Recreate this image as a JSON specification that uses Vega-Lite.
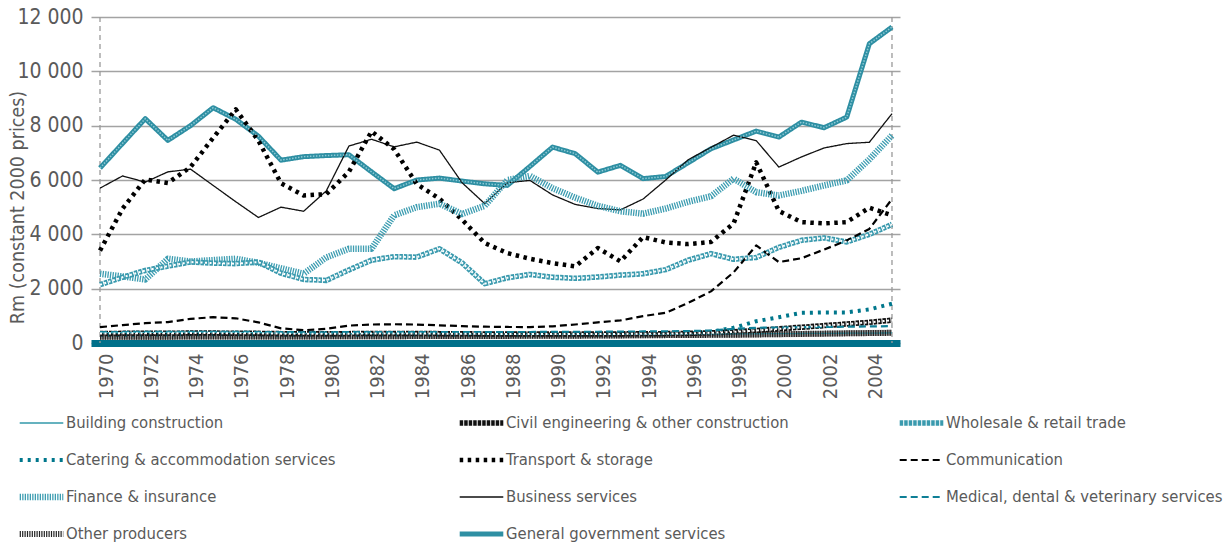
{
  "$schema": "https://vega.github.io/schema/vega-lite/v6.json",
  "width": 809,
  "height": 326,
  "autosize": "none",
  "padding": {"left": 91, "top": 17, "right": 329, "bottom": 200},
  "background": "white",
  "config": {
    "font": "DejaVu Sans Condensed, DejaVu Sans, sans-serif",
    "view": {"stroke": null}
  },
  "datasets": {
    "bounds": [{"year": 1970}, {"year": 2005}],
    "d": [
      {"series":"General government services","year":1970,"value":6440},{"series":"General government services","year":1971,"value":7350},{"series":"General government services","year":1972,"value":8257},{"series":"General government services","year":1973,"value":7458},{"series":"General government services","year":1974,"value":8000},{"series":"General government services","year":1975,"value":8661},{"series":"General government services","year":1976,"value":8236},{"series":"General government services","year":1977,"value":7613},{"series":"General government services","year":1978,"value":6730},{"series":"General government services","year":1979,"value":6860},{"series":"General government services","year":1980,"value":6900},{"series":"General government services","year":1981,"value":6930},{"series":"General government services","year":1982,"value":6300},{"series":"General government services","year":1983,"value":5680},{"series":"General government services","year":1984,"value":6000},{"series":"General government services","year":1985,"value":6070},{"series":"General government services","year":1986,"value":5960},{"series":"General government services","year":1987,"value":5860},{"series":"General government services","year":1988,"value":5800},{"series":"General government services","year":1989,"value":6500},{"series":"General government services","year":1990,"value":7210},{"series":"General government services","year":1991,"value":6970},{"series":"General government services","year":1992,"value":6290},{"series":"General government services","year":1993,"value":6540},{"series":"General government services","year":1994,"value":6050},{"series":"General government services","year":1995,"value":6130},{"series":"General government services","year":1996,"value":6640},{"series":"General government services","year":1997,"value":7150},{"series":"General government services","year":1998,"value":7475},{"series":"General government services","year":1999,"value":7800},{"series":"General government services","year":2000,"value":7580},{"series":"General government services","year":2001,"value":8130},{"series":"General government services","year":2002,"value":7925},{"series":"General government services","year":2003,"value":8315},{"series":"General government services","year":2004,"value":11017},{"series":"General government services","year":2005,"value":11630},
      {"series":"Business services","year":1970,"value":5700},{"series":"Business services","year":1971,"value":6150},{"series":"Business services","year":1972,"value":5920},{"series":"Business services","year":1973,"value":6300},{"series":"Business services","year":1974,"value":6400},{"series":"Business services","year":1975,"value":5800},{"series":"Business services","year":1976,"value":5200},{"series":"Business services","year":1977,"value":4620},{"series":"Business services","year":1978,"value":5000},{"series":"Business services","year":1979,"value":4850},{"series":"Business services","year":1980,"value":5600},{"series":"Business services","year":1981,"value":7250},{"series":"Business services","year":1982,"value":7500},{"series":"Business services","year":1983,"value":7220},{"series":"Business services","year":1984,"value":7395},{"series":"Business services","year":1985,"value":7100},{"series":"Business services","year":1986,"value":5900},{"series":"Business services","year":1987,"value":5130},{"series":"Business services","year":1988,"value":5900},{"series":"Business services","year":1989,"value":5985},{"series":"Business services","year":1990,"value":5450},{"series":"Business services","year":1991,"value":5100},{"series":"Business services","year":1992,"value":4950},{"series":"Business services","year":1993,"value":4900},{"series":"Business services","year":1994,"value":5300},{"series":"Business services","year":1995,"value":6000},{"series":"Business services","year":1996,"value":6750},{"series":"Business services","year":1997,"value":7200},{"series":"Business services","year":1998,"value":7650},{"series":"Business services","year":1999,"value":7450},{"series":"Business services","year":2000,"value":6475},{"series":"Business services","year":2001,"value":6850},{"series":"Business services","year":2002,"value":7180},{"series":"Business services","year":2003,"value":7340},{"series":"Business services","year":2004,"value":7390},{"series":"Business services","year":2005,"value":8440},
      {"series":"Transport & storage","year":1970,"value":3400},{"series":"Transport & storage","year":1971,"value":4950},{"series":"Transport & storage","year":1972,"value":6020},{"series":"Transport & storage","year":1973,"value":5890},{"series":"Transport & storage","year":1974,"value":6475},{"series":"Transport & storage","year":1975,"value":7550},{"series":"Transport & storage","year":1976,"value":8600},{"series":"Transport & storage","year":1977,"value":7450},{"series":"Transport & storage","year":1978,"value":5880},{"series":"Transport & storage","year":1979,"value":5430},{"series":"Transport & storage","year":1980,"value":5480},{"series":"Transport & storage","year":1981,"value":6300},{"series":"Transport & storage","year":1982,"value":7790},{"series":"Transport & storage","year":1983,"value":7130},{"series":"Transport & storage","year":1984,"value":5850},{"series":"Transport & storage","year":1985,"value":5310},{"series":"Transport & storage","year":1986,"value":4540},{"series":"Transport & storage","year":1987,"value":3680},{"series":"Transport & storage","year":1988,"value":3310},{"series":"Transport & storage","year":1989,"value":3100},{"series":"Transport & storage","year":1990,"value":2940},{"series":"Transport & storage","year":1991,"value":2820},{"series":"Transport & storage","year":1992,"value":3495},{"series":"Transport & storage","year":1993,"value":3004},{"series":"Transport & storage","year":1994,"value":3900},{"series":"Transport & storage","year":1995,"value":3700},{"series":"Transport & storage","year":1996,"value":3640},{"series":"Transport & storage","year":1997,"value":3720},{"series":"Transport & storage","year":1998,"value":4400},{"series":"Transport & storage","year":1999,"value":6650},{"series":"Transport & storage","year":2000,"value":4860},{"series":"Transport & storage","year":2001,"value":4450},{"series":"Transport & storage","year":2002,"value":4400},{"series":"Transport & storage","year":2003,"value":4450},{"series":"Transport & storage","year":2004,"value":4980},{"series":"Transport & storage","year":2005,"value":4700},
      {"series":"Finance & insurance","year":1970,"value":2550},{"series":"Finance & insurance","year":1971,"value":2450},{"series":"Finance & insurance","year":1972,"value":2340},{"series":"Finance & insurance","year":1973,"value":3100},{"series":"Finance & insurance","year":1974,"value":3000},{"series":"Finance & insurance","year":1975,"value":3050},{"series":"Finance & insurance","year":1976,"value":3100},{"series":"Finance & insurance","year":1977,"value":2950},{"series":"Finance & insurance","year":1978,"value":2750},{"series":"Finance & insurance","year":1979,"value":2550},{"series":"Finance & insurance","year":1980,"value":3150},{"series":"Finance & insurance","year":1981,"value":3470},{"series":"Finance & insurance","year":1982,"value":3470},{"series":"Finance & insurance","year":1983,"value":4700},{"series":"Finance & insurance","year":1984,"value":5000},{"series":"Finance & insurance","year":1985,"value":5128},{"series":"Finance & insurance","year":1986,"value":4750},{"series":"Finance & insurance","year":1987,"value":5050},{"series":"Finance & insurance","year":1988,"value":6000},{"series":"Finance & insurance","year":1989,"value":6150},{"series":"Finance & insurance","year":1990,"value":5700},{"series":"Finance & insurance","year":1991,"value":5350},{"series":"Finance & insurance","year":1992,"value":5050},{"series":"Finance & insurance","year":1993,"value":4850},{"series":"Finance & insurance","year":1994,"value":4760},{"series":"Finance & insurance","year":1995,"value":4950},{"series":"Finance & insurance","year":1996,"value":5200},{"series":"Finance & insurance","year":1997,"value":5400},{"series":"Finance & insurance","year":1998,"value":6050},{"series":"Finance & insurance","year":1999,"value":5550},{"series":"Finance & insurance","year":2000,"value":5430},{"series":"Finance & insurance","year":2001,"value":5600},{"series":"Finance & insurance","year":2002,"value":5800},{"series":"Finance & insurance","year":2003,"value":5985},{"series":"Finance & insurance","year":2004,"value":6760},{"series":"Finance & insurance","year":2005,"value":7640},
      {"series":"Wholesale & retail trade","year":1970,"value":2145},{"series":"Wholesale & retail trade","year":1971,"value":2420},{"series":"Wholesale & retail trade","year":1972,"value":2670},{"series":"Wholesale & retail trade","year":1973,"value":2830},{"series":"Wholesale & retail trade","year":1974,"value":2980},{"series":"Wholesale & retail trade","year":1975,"value":2940},{"series":"Wholesale & retail trade","year":1976,"value":2920},{"series":"Wholesale & retail trade","year":1977,"value":2980},{"series":"Wholesale & retail trade","year":1978,"value":2570},{"series":"Wholesale & retail trade","year":1979,"value":2340},{"series":"Wholesale & retail trade","year":1980,"value":2305},{"series":"Wholesale & retail trade","year":1981,"value":2690},{"series":"Wholesale & retail trade","year":1982,"value":3050},{"series":"Wholesale & retail trade","year":1983,"value":3180},{"series":"Wholesale & retail trade","year":1984,"value":3160},{"series":"Wholesale & retail trade","year":1985,"value":3470},{"series":"Wholesale & retail trade","year":1986,"value":2950},{"series":"Wholesale & retail trade","year":1987,"value":2183},{"series":"Wholesale & retail trade","year":1988,"value":2400},{"series":"Wholesale & retail trade","year":1989,"value":2525},{"series":"Wholesale & retail trade","year":1990,"value":2420},{"series":"Wholesale & retail trade","year":1991,"value":2380},{"series":"Wholesale & retail trade","year":1992,"value":2430},{"series":"Wholesale & retail trade","year":1993,"value":2500},{"series":"Wholesale & retail trade","year":1994,"value":2550},{"series":"Wholesale & retail trade","year":1995,"value":2700},{"series":"Wholesale & retail trade","year":1996,"value":3050},{"series":"Wholesale & retail trade","year":1997,"value":3290},{"series":"Wholesale & retail trade","year":1998,"value":3080},{"series":"Wholesale & retail trade","year":1999,"value":3150},{"series":"Wholesale & retail trade","year":2000,"value":3520},{"series":"Wholesale & retail trade","year":2001,"value":3780},{"series":"Wholesale & retail trade","year":2002,"value":3870},{"series":"Wholesale & retail trade","year":2003,"value":3720},{"series":"Wholesale & retail trade","year":2004,"value":4000},{"series":"Wholesale & retail trade","year":2005,"value":4366},
      {"series":"Communication","year":1970,"value":585},{"series":"Communication","year":1971,"value":660},{"series":"Communication","year":1972,"value":730},{"series":"Communication","year":1973,"value":770},{"series":"Communication","year":1974,"value":890},{"series":"Communication","year":1975,"value":950},{"series":"Communication","year":1976,"value":910},{"series":"Communication","year":1977,"value":760},{"series":"Communication","year":1978,"value":540},{"series":"Communication","year":1979,"value":470},{"series":"Communication","year":1980,"value":520},{"series":"Communication","year":1981,"value":640},{"series":"Communication","year":1982,"value":680},{"series":"Communication","year":1983,"value":690},{"series":"Communication","year":1984,"value":680},{"series":"Communication","year":1985,"value":650},{"series":"Communication","year":1986,"value":620},{"series":"Communication","year":1987,"value":600},{"series":"Communication","year":1988,"value":590},{"series":"Communication","year":1989,"value":585},{"series":"Communication","year":1990,"value":615},{"series":"Communication","year":1991,"value":680},{"series":"Communication","year":1992,"value":760},{"series":"Communication","year":1993,"value":830},{"series":"Communication","year":1994,"value":990},{"series":"Communication","year":1995,"value":1110},{"series":"Communication","year":1996,"value":1480},{"series":"Communication","year":1997,"value":1900},{"series":"Communication","year":1998,"value":2600},{"series":"Communication","year":1999,"value":3590},{"series":"Communication","year":2000,"value":2978},{"series":"Communication","year":2001,"value":3120},{"series":"Communication","year":2002,"value":3440},{"series":"Communication","year":2003,"value":3770},{"series":"Communication","year":2004,"value":4200},{"series":"Communication","year":2005,"value":5300},
      {"series":"Catering & accommodation services","year":1970,"value":300},{"series":"Catering & accommodation services","year":1971,"value":305},{"series":"Catering & accommodation services","year":1972,"value":310},{"series":"Catering & accommodation services","year":1973,"value":315},{"series":"Catering & accommodation services","year":1974,"value":320},{"series":"Catering & accommodation services","year":1975,"value":320},{"series":"Catering & accommodation services","year":1976,"value":320},{"series":"Catering & accommodation services","year":1977,"value":315},{"series":"Catering & accommodation services","year":1978,"value":305},{"series":"Catering & accommodation services","year":1979,"value":300},{"series":"Catering & accommodation services","year":1980,"value":300},{"series":"Catering & accommodation services","year":1981,"value":305},{"series":"Catering & accommodation services","year":1982,"value":310},{"series":"Catering & accommodation services","year":1983,"value":310},{"series":"Catering & accommodation services","year":1984,"value":310},{"series":"Catering & accommodation services","year":1985,"value":305},{"series":"Catering & accommodation services","year":1986,"value":300},{"series":"Catering & accommodation services","year":1987,"value":300},{"series":"Catering & accommodation services","year":1988,"value":300},{"series":"Catering & accommodation services","year":1989,"value":300},{"series":"Catering & accommodation services","year":1990,"value":305},{"series":"Catering & accommodation services","year":1991,"value":305},{"series":"Catering & accommodation services","year":1992,"value":310},{"series":"Catering & accommodation services","year":1993,"value":315},{"series":"Catering & accommodation services","year":1994,"value":320},{"series":"Catering & accommodation services","year":1995,"value":330},{"series":"Catering & accommodation services","year":1996,"value":350},{"series":"Catering & accommodation services","year":1997,"value":410},{"series":"Catering & accommodation services","year":1998,"value":560},{"series":"Catering & accommodation services","year":1999,"value":800},{"series":"Catering & accommodation services","year":2000,"value":950},{"series":"Catering & accommodation services","year":2001,"value":1110},{"series":"Catering & accommodation services","year":2002,"value":1126},{"series":"Catering & accommodation services","year":2003,"value":1126},{"series":"Catering & accommodation services","year":2004,"value":1237},{"series":"Catering & accommodation services","year":2005,"value":1446},
      {"series":"Civil engineering & other construction","year":1970,"value":350},{"series":"Civil engineering & other construction","year":1971,"value":355},{"series":"Civil engineering & other construction","year":1972,"value":360},{"series":"Civil engineering & other construction","year":1973,"value":360},{"series":"Civil engineering & other construction","year":1974,"value":365},{"series":"Civil engineering & other construction","year":1975,"value":365},{"series":"Civil engineering & other construction","year":1976,"value":360},{"series":"Civil engineering & other construction","year":1977,"value":355},{"series":"Civil engineering & other construction","year":1978,"value":345},{"series":"Civil engineering & other construction","year":1979,"value":340},{"series":"Civil engineering & other construction","year":1980,"value":340},{"series":"Civil engineering & other construction","year":1981,"value":345},{"series":"Civil engineering & other construction","year":1982,"value":350},{"series":"Civil engineering & other construction","year":1983,"value":350},{"series":"Civil engineering & other construction","year":1984,"value":350},{"series":"Civil engineering & other construction","year":1985,"value":345},{"series":"Civil engineering & other construction","year":1986,"value":340},{"series":"Civil engineering & other construction","year":1987,"value":335},{"series":"Civil engineering & other construction","year":1988,"value":330},{"series":"Civil engineering & other construction","year":1989,"value":330},{"series":"Civil engineering & other construction","year":1990,"value":330},{"series":"Civil engineering & other construction","year":1991,"value":330},{"series":"Civil engineering & other construction","year":1992,"value":330},{"series":"Civil engineering & other construction","year":1993,"value":335},{"series":"Civil engineering & other construction","year":1994,"value":340},{"series":"Civil engineering & other construction","year":1995,"value":345},{"series":"Civil engineering & other construction","year":1996,"value":355},{"series":"Civil engineering & other construction","year":1997,"value":375},{"series":"Civil engineering & other construction","year":1998,"value":410},{"series":"Civil engineering & other construction","year":1999,"value":460},{"series":"Civil engineering & other construction","year":2000,"value":520},{"series":"Civil engineering & other construction","year":2001,"value":580},{"series":"Civil engineering & other construction","year":2002,"value":640},{"series":"Civil engineering & other construction","year":2003,"value":700},{"series":"Civil engineering & other construction","year":2004,"value":760},{"series":"Civil engineering & other construction","year":2005,"value":840},
      {"series":"Medical, dental & veterinary services","year":1970,"value":400},{"series":"Medical, dental & veterinary services","year":1971,"value":405},{"series":"Medical, dental & veterinary services","year":1972,"value":410},{"series":"Medical, dental & veterinary services","year":1973,"value":410},{"series":"Medical, dental & veterinary services","year":1974,"value":415},{"series":"Medical, dental & veterinary services","year":1975,"value":415},{"series":"Medical, dental & veterinary services","year":1976,"value":410},{"series":"Medical, dental & veterinary services","year":1977,"value":405},{"series":"Medical, dental & veterinary services","year":1978,"value":400},{"series":"Medical, dental & veterinary services","year":1979,"value":395},{"series":"Medical, dental & veterinary services","year":1980,"value":395},{"series":"Medical, dental & veterinary services","year":1981,"value":400},{"series":"Medical, dental & veterinary services","year":1982,"value":405},{"series":"Medical, dental & veterinary services","year":1983,"value":405},{"series":"Medical, dental & veterinary services","year":1984,"value":405},{"series":"Medical, dental & veterinary services","year":1985,"value":400},{"series":"Medical, dental & veterinary services","year":1986,"value":400},{"series":"Medical, dental & veterinary services","year":1987,"value":400},{"series":"Medical, dental & veterinary services","year":1988,"value":400},{"series":"Medical, dental & veterinary services","year":1989,"value":405},{"series":"Medical, dental & veterinary services","year":1990,"value":410},{"series":"Medical, dental & veterinary services","year":1991,"value":410},{"series":"Medical, dental & veterinary services","year":1992,"value":415},{"series":"Medical, dental & veterinary services","year":1993,"value":420},{"series":"Medical, dental & veterinary services","year":1994,"value":425},{"series":"Medical, dental & veterinary services","year":1995,"value":430},{"series":"Medical, dental & veterinary services","year":1996,"value":440},{"series":"Medical, dental & veterinary services","year":1997,"value":460},{"series":"Medical, dental & veterinary services","year":1998,"value":520},{"series":"Medical, dental & veterinary services","year":1999,"value":560},{"series":"Medical, dental & veterinary services","year":2000,"value":570},{"series":"Medical, dental & veterinary services","year":2001,"value":580},{"series":"Medical, dental & veterinary services","year":2002,"value":590},{"series":"Medical, dental & veterinary services","year":2003,"value":600},{"series":"Medical, dental & veterinary services","year":2004,"value":610},{"series":"Medical, dental & veterinary services","year":2005,"value":620},
      {"series":"Building construction","year":1970,"value":380},{"series":"Building construction","year":1971,"value":385},{"series":"Building construction","year":1972,"value":390},{"series":"Building construction","year":1973,"value":395},{"series":"Building construction","year":1974,"value":400},{"series":"Building construction","year":1975,"value":400},{"series":"Building construction","year":1976,"value":395},{"series":"Building construction","year":1977,"value":380},{"series":"Building construction","year":1978,"value":360},{"series":"Building construction","year":1979,"value":350},{"series":"Building construction","year":1980,"value":340},{"series":"Building construction","year":1981,"value":340},{"series":"Building construction","year":1982,"value":345},{"series":"Building construction","year":1983,"value":345},{"series":"Building construction","year":1984,"value":340},{"series":"Building construction","year":1985,"value":335},{"series":"Building construction","year":1986,"value":330},{"series":"Building construction","year":1987,"value":325},{"series":"Building construction","year":1988,"value":320},{"series":"Building construction","year":1989,"value":320},{"series":"Building construction","year":1990,"value":320},{"series":"Building construction","year":1991,"value":320},{"series":"Building construction","year":1992,"value":315},{"series":"Building construction","year":1993,"value":315},{"series":"Building construction","year":1994,"value":320},{"series":"Building construction","year":1995,"value":320},{"series":"Building construction","year":1996,"value":325},{"series":"Building construction","year":1997,"value":330},{"series":"Building construction","year":1998,"value":335},{"series":"Building construction","year":1999,"value":340},{"series":"Building construction","year":2000,"value":345},{"series":"Building construction","year":2001,"value":350},{"series":"Building construction","year":2002,"value":355},{"series":"Building construction","year":2003,"value":360},{"series":"Building construction","year":2004,"value":365},{"series":"Building construction","year":2005,"value":370},
      {"series":"Other producers","year":1970,"value":230},{"series":"Other producers","year":1971,"value":230},{"series":"Other producers","year":1972,"value":232},{"series":"Other producers","year":1973,"value":234},{"series":"Other producers","year":1974,"value":236},{"series":"Other producers","year":1975,"value":238},{"series":"Other producers","year":1976,"value":240},{"series":"Other producers","year":1977,"value":240},{"series":"Other producers","year":1978,"value":240},{"series":"Other producers","year":1979,"value":242},{"series":"Other producers","year":1980,"value":245},{"series":"Other producers","year":1981,"value":248},{"series":"Other producers","year":1982,"value":250},{"series":"Other producers","year":1983,"value":252},{"series":"Other producers","year":1984,"value":254},{"series":"Other producers","year":1985,"value":256},{"series":"Other producers","year":1986,"value":258},{"series":"Other producers","year":1987,"value":260},{"series":"Other producers","year":1988,"value":262},{"series":"Other producers","year":1989,"value":265},{"series":"Other producers","year":1990,"value":268},{"series":"Other producers","year":1991,"value":270},{"series":"Other producers","year":1992,"value":275},{"series":"Other producers","year":1993,"value":280},{"series":"Other producers","year":1994,"value":285},{"series":"Other producers","year":1995,"value":290},{"series":"Other producers","year":1996,"value":295},{"series":"Other producers","year":1997,"value":300},{"series":"Other producers","year":1998,"value":305},{"series":"Other producers","year":1999,"value":315},{"series":"Other producers","year":2000,"value":325},{"series":"Other producers","year":2001,"value":335},{"series":"Other producers","year":2002,"value":345},{"series":"Other producers","year":2003,"value":355},{"series":"Other producers","year":2004,"value":365},{"series":"Other producers","year":2005,"value":375}
    ]
  },
  "layer": [
    {
      "data": {"name": "bounds"},
      "mark": {"type": "rule", "color": "#9a9a9a", "strokeDash": [5, 4], "strokeWidth": 1.3},
      "encoding": {
        "x": {"field": "year", "type": "quantitative", "scale": {"domain": [1969.602, 2005.354], "nice": false, "zero": false}}
      }
    },
    {
      "data": {"name": "d"},
      "transform": [{"filter": "datum.series === 'Other producers'"}],
      "mark": {"type": "line", "color": "#9a9a9a", "strokeWidth": 6},
      "encoding": {
        "x": {"field": "year", "type": "quantitative"},
        "y": {"field": "value", "type": "quantitative"}
      }
    },
    {
      "data": {"name": "d"},
      "mark": {"type": "line", "strokeJoin": "round", "strokeCap": "butt"},
      "encoding": {
        "x": {
          "field": "year", "type": "quantitative",
          "axis": {
            "title": null, "values": [1970,1972,1974,1976,1978,1980,1982,1984,1986,1988,1990,1992,1994,1996,1998,2000,2002,2004],
            "format": "d", "labelAngle": -90, "labelAlign": "right", "labelBaseline": "middle", "labelOffset": 6, "labelPadding": 10,
            "labelFontSize": 20, "labelColor": "#5a5a5a", "ticks": false, "grid": false,
            "domainColor": "#00708a", "domainWidth": 7, "labelFlush": false, "labelOverlap": false
          }
        },
        "y": {
          "field": "value", "type": "quantitative",
          "scale": {"domain": [0, 12000], "nice": false},
          "axis": {
            "title": "Rm (constant 2000 prices)", "titleFontSize": 19.5, "titleFontWeight": "normal", "titleColor": "#5a5a5a",
            "titleX": -74, "titleY": 190, "titleAngle": -90, "titleAlign": "center", "titleBaseline": "middle",
            "values": [0,2000,4000,6000,8000,10000,12000],
            "labelExpr": "replace(format(datum.value, ','), ',', ' ')",
            "labelFontSize": 21, "labelColor": "#5a5a5a", "labelPadding": 8,
            "ticks": false, "domain": false, "grid": true, "gridColor": "#a3a3a3", "gridWidth": 1.4
          }
        },
        "color": {
          "field": "series", "type": "nominal",
          "scale": {
            "domain": ["Building construction","Civil engineering & other construction","Wholesale & retail trade","Catering & accommodation services","Transport & storage","Communication","Finance & insurance","Business services","Medical, dental & veterinary services","Other producers","General government services"],
            "range": ["#3399aa","#111111","#3a9aae","#00778c","#000000","#000000","#3d9db1","#111111","#0e7f96","#222222","#2e8fa3"]
          },
          "legend": {
            "title": null, "orient": "none", "legendX": -75, "legendY": 396, "columns": 3, "direction": "horizontal", "gridAlign": "all",
            "columnPadding": 107, "rowPadding": 17, "clipHeight": 20, "symbolSize": 1900, "symbolType": "stroke",
            "labelFontSize": 16.5, "labelColor": "#5a5a5a", "labelOffset": -1, "labelLimit": 500, "padding": 0
          }
        },
        "strokeDash": {
          "field": "series", "type": "nominal",
          "scale": {
            "type": "ordinal",
            "domain": ["Building construction","Civil engineering & other construction","Wholesale & retail trade","Catering & accommodation services","Transport & storage","Communication","Finance & insurance","Business services","Medical, dental & veterinary services","Other producers","General government services"],
            "range": [[1,0],[3.5,1],[3.5,1],[3,5],[3.5,4.5],[7,4],[1.3,1.2],[1,0],[7,4],[1.2,1.2],[1,0]]
          }
        },
        "strokeWidth": {
          "field": "series", "type": "nominal",
          "scale": {
            "type": "ordinal",
            "domain": ["Building construction","Civil engineering & other construction","Wholesale & retail trade","Catering & accommodation services","Transport & storage","Communication","Finance & insurance","Business services","Medical, dental & veterinary services","Other producers","General government services"],
            "range": [1.3,5.5,5.5,4,4.5,2.2,6.5,1.3,2.2,6,5]
          }
        }
      }
    },
    {
      "data": {"name": "d"},
      "transform": [{"filter": "datum.series === 'Wholesale & retail trade' || datum.series === 'Civil engineering & other construction'"}],
      "mark": {"type": "line", "color": "white", "strokeWidth": 2, "strokeDash": [2, 2.5]},
      "encoding": {
        "x": {"field": "year", "type": "quantitative"},
        "y": {"field": "value", "type": "quantitative"},
        "detail": {"field": "series", "type": "nominal"}
      }
    },
    {
      "data": {"name": "d"},
      "transform": [{"filter": "datum.series === 'General government services'"}],
      "mark": {"type": "line", "color": "#8fcad5", "strokeWidth": 1.5, "strokeDash": [1.5, 1.5]},
      "encoding": {
        "x": {"field": "year", "type": "quantitative"},
        "y": {"field": "value", "type": "quantitative"}
      }
    }
  ]
}
